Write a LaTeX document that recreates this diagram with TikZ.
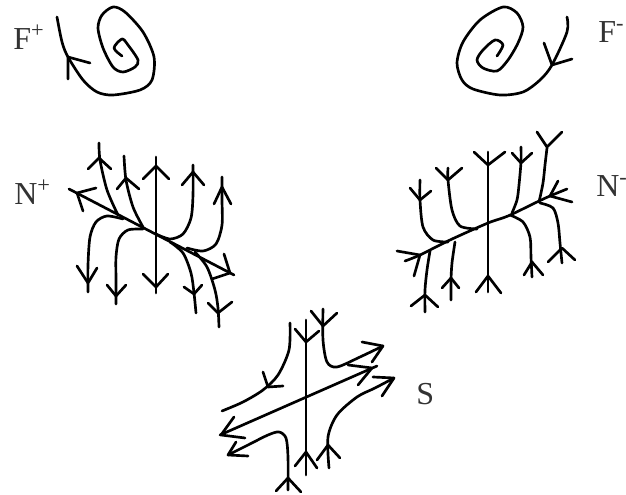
\documentclass[tikz,border=0pt]{standalone}
\usepackage{fontspec}
\setmainfont{Liberation Serif}
\tikzset{
  flowline/.style={line width=2pt, line cap=round, line join=round},
  flowlabel/.style={anchor=base west, inner sep=0pt, font=\fontsize{24}{24}\selectfont, text=black!80},
}
\newcommand{\flowcurve}[1]{\draw[flowline] plot[smooth, tension=0.5] coordinates {#1};}
\newcommand{\flowhead}[3]{\draw[flowline] #1 -- #2 -- #3;}

\begin{document}
\begin{tikzpicture}[x=0.75pt, y=-0.75pt]
  \useasboundingbox (0,0) rectangle (626,495);

  % Labels
  \node[flowlabel] (labelFplus) at (13,50) {F\textsuperscript{+}};
  \node[flowlabel] (labelFminus) at (598,43) {F\textsuperscript{-}};
  \node[flowlabel] (labelNplus) at (14,205) {N\textsuperscript{+}};
  \node[flowlabel] (labelNminus) at (596,197) {N\textsuperscript{-}};
  \node[flowlabel] (labelS) at (416,405) {S};

  % Spiral F+
  \flowcurve{(57,17) (62,42) (68,57) (83,80) (97,92) (113,95) (140,90) (152,80) (154,57) (143,32) (125,12) (113,7) (102,15) (98,28) (103,48) (113,67) (123,72) (135,67) (138,60) (128,45) (122,39) (114,48) (122,56)}
  \flowhead{(68,79)}{(68,57)}{(90,63)}

  % Spiral F-
  \flowcurve{(567,17) (567,32) (552,65) (540,80) (523,92) (500,95) (473,89) (462,80) (457,63) (463,42) (480,20) (503,7) (517,13) (523,27) (518,43) (508,60) (497,71) (483,68) (477,60) (483,50) (495,40) (503,45) (497,56)}
  \flowhead{(544,43)}{(552,65)}{(572,59)}

  % Node N+
  \draw[flowline] (156,157) -- (156,293);
  \flowhead{(143,179)}{(156,166)}{(169,179)}
  \flowhead{(143,274)}{(156,287)}{(168,274)}
  \draw[flowline] (69,189) -- (234,275);
  \flowhead{(96,188)}{(77,193)}{(83,211)}
  \flowhead{(224,254)}{(230,273)}{(212,279)}
  \flowcurve{(99,143) (100,160) (107,190) (118,215)}
  \flowhead{(88,169)}{(99,158)}{(111,169)}
  \flowcurve{(124,156) (126,180) (133,207) (143,227)}
  \flowhead{(117,189)}{(126,178)}{(139,189)}
  \flowcurve{(156,234) (170,239) (183,234) (191,218) (193,195) (193,165)}
  \flowhead{(182,185)}{(193,172)}{(204,185)}
  \flowcurve{(187,248) (203,251) (216,244) (222,225) (222,200) (222,177)}
  \flowhead{(214,204)}{(222,187)}{(231,204)}
  \flowcurve{(123,219) (107,216) (96,222) (90,237) (88,265) (88,292)}
  \flowhead{(77,266)}{(88,283)}{(97,268)}
  \flowcurve{(143,229) (128,230) (119,239) (116,257) (116,280) (116,304)}
  \flowhead{(107,285)}{(116,296)}{(126,285)}
  \flowcurve{(170,242) (183,253) (191,273) (194,293) (196,313)}
  \flowhead{(184,287)}{(194,294)}{(202,285)}
  \flowcurve{(195,252) (207,267) (215,290) (218,308) (219,327)}
  \flowhead{(208,303)}{(218,313)}{(232,302)}

  % Node N-
  \draw[flowline] (488,152) -- (488,292);
  \flowhead{(474,152)}{(488,165)}{(505,152)}
  \flowhead{(476,292)}{(488,276)}{(501,293)}
  \flowcurve{(405,261) (420,255) (450,240) (488,223) (508,216) (537,202) (550,196) (567,189)}
  \flowhead{(397,251)}{(420,255)}{(414,276)}
  \flowhead{(558,181)}{(550,196)}{(572,202)}
  \flowcurve{(420,180) (420,200) (423,227) (433,240) (448,242)}
  \flowhead{(410,188)}{(420,200)}{(431,191)}
  \flowcurve{(448,168) (448,180) (452,210) (460,226) (477,229)}
  \flowhead{(436,168)}{(448,180)}{(462,168)}
  \flowcurve{(521,147) (521,162) (519,185) (517,200) (512,213)}
  \flowhead{(512,153)}{(521,163)}{(532,153)}
  \flowcurve{(547,148) (545,165) (543,183) (539,202)}
  \flowhead{(537,132)}{(547,147)}{(562,132)}
  \flowcurve{(510,215) (523,222) (530,237) (531,257) (532,277)}
  \flowhead{(524,275)}{(532,262)}{(543,275)}
  \flowcurve{(540,203) (553,208) (558,223) (560,243) (562,263)}
  \flowhead{(548,262)}{(562,248)}{(575,260)}
  \flowcurve{(455,242) (452,263) (451,280) (451,300)}
  \flowhead{(442,288)}{(451,278)}{(459,288)}
  \flowcurve{(430,251) (427,270) (425,290) (425,312)}
  \flowhead{(411,306)}{(425,295)}{(438,307)}

  % Saddle S
  \draw[flowline] (306,320) -- (306,475);
  \flowhead{(295,329)}{(306,342)}{(319,331)}
  \flowhead{(295,466)}{(306,452)}{(317,468)}
  \draw[flowline] (220,435) -- (377,366);
  \flowhead{(348,365)}{(372,368)}{(358,385)}
  \flowhead{(234,417)}{(221,435)}{(245,438)}
  \flowcurve{(290,323) (289,350) (278,375) (263,390) (243,402) (222,411)}
  \flowhead{(263,372)}{(268,387)}{(283,386)}
  \flowcurve{(323,309) (323,340) (327,362) (337,367) (360,357) (383,346)}
  \flowhead{(311,311)}{(323,326)}{(337,313)}
  \flowhead{(362,342)}{(383,346)}{(372,362)}
  \flowcurve{(329,468) (328,437) (337,415) (357,397) (375,388) (394,378)}
  \flowhead{(317,460)}{(328,445)}{(340,458)}
  \flowhead{(373,377)}{(394,378)}{(382,396)}
  \flowcurve{(288,490) (288,457) (286,438) (279,432) (268,435) (248,445) (228,455)}
  \flowhead{(276,491)}{(288,478)}{(301,492)}
  \flowhead{(236,442)}{(228,455)}{(248,456)}
\end{tikzpicture}
\end{document}
